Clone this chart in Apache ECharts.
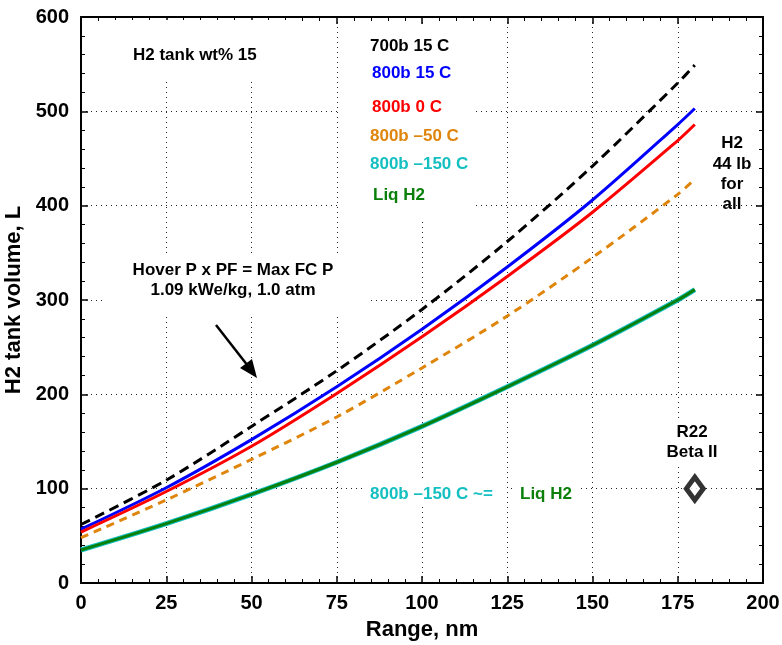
<!DOCTYPE html>
<html><head><meta charset="utf-8">
<script src="https://cdn.jsdelivr.net/npm/echarts@6/dist/echarts.min.js"></script>
<style>html,body{margin:0;padding:0;background:#fff}#c{width:782px;height:645px}</style>
</head><body><div id="c"></div><script>
// Range, nm
const ranges = [0, 25, 50, 75, 100, 125, 150, 175, 180];
// H2 tank volume, L
const v700b15C   = [62, 109, 166, 225, 290, 362, 442, 530, 549];
const v800b15C   = [57, 101, 152, 208, 269, 335, 406, 486, 503];
const v800b0C    = [54, 97, 145, 201, 261, 325, 393, 469, 486];
const v800bm50C  = [48, 88, 131, 176, 228, 283, 345, 412, 428];
const v800bm150C = [35, 63, 94, 128, 166, 208, 252, 300, 311];
const vLiqH2     = [35, 63, 94, 128, 166, 208, 252, 300, 311];
const r22Point = [[180, 100]];
const xTicks = {min: 0, max: 200, interval: 25};
const yTicks = {min: 0, max: 600, interval: 100};

const FONT = '"Liberation Sans", Arial, Helvetica, sans-serif';
const C = {black:'#000000', blue:'#0000FF', red:'#FF0000', orange:'#E0850B', cyan:'#14BFC2', green:'#0A800A'};
const pair = a => ranges.map((x, i) => [x, a[i]]);

const axisLine = {show: true, onZero: false, lineStyle: {color: '#000', width: 2}};
const tick = {show: true, inside: true, length: 7, lineStyle: {color: '#000', width: 1.5}};
const grid = {show: true, lineStyle: {type: [1, 4], color: '#222', width: 1}};
const lbl = {color: '#000', fontFamily: FONT, fontWeight: 'bold', fontSize: 20};
const nameStyle = {color: '#000', fontFamily: FONT, fontWeight: 'bold', fontSize: 22};
const minor = {show: true, splitNumber: 5, length: 4, lineStyle: {color: '#000'}};

function line(name, data, color, width, dash, z) {
  return {name, type: 'line', data: pair(data), smooth: 0.3, symbol: 'none', z: z || 2,
    lineStyle: {color, width, type: dash || 'solid', cap: 'butt'}};
}

const chart = echarts.init(document.getElementById('c'), null, {renderer: 'canvas'});
const txt = (text, x, y, color, align, size) => ({type: 'text', x, y, z: 20,
  style: {text, fill: color, font: 'bold ' + (size || 17) + 'px ' + FONT, textAlign: align || 'left', textVerticalAlign: 'middle'}});
const box = (x, y, w, h) => ({type: 'rect', shape: {x, y, width: w, height: h}, z: 1, style: {fill: '#fff'}});

chart.setOption({
  animation: false,
  backgroundColor: '#fff',
  grid: {left: 81, right: 19, top: 17, bottom: 62, outerBoundsMode: 'none', containLabel: false},
  xAxis: [
    Object.assign({type: 'value', position: 'bottom', axisLine, axisTick: tick, minorTick: minor,
      axisLabel: Object.assign({margin: 10}, lbl), splitLine: grid,
      name: 'Range, nm', nameLocation: 'middle', nameGap: 36, nameTextStyle: nameStyle}, xTicks),
    Object.assign({type: 'value', position: 'top', axisLine, axisTick: tick, minorTick: minor,
      axisLabel: {show: false}, splitLine: {show: false}}, xTicks)
  ],
  yAxis: [
    Object.assign({type: 'value', position: 'left', axisLine, axisTick: tick, minorTick: minor,
      axisLabel: Object.assign({margin: 12}, lbl), splitLine: grid,
      name: 'H2 tank volume, L', nameLocation: 'middle', nameGap: 51, nameRotate: 90, nameTextStyle: nameStyle}, yTicks),
    Object.assign({type: 'value', position: 'right', axisLine, axisTick: tick, minorTick: minor,
      axisLabel: {show: false}, splitLine: {show: false}}, yTicks)
  ],
  series: [
    line('700b 15 C', v700b15C, C.black, 3, [10, 6]),
    line('800b 15 C', v800b15C, C.blue, 3),
    line('800b 0 C', v800b0C, C.red, 3),
    line('800b –50 C', v800bm50C, C.orange, 3, [8, 6]),
    line('800b –150 C', v800bm150C, C.cyan, 5, null, 2),
    line('Liq H2', vLiqH2, C.green, 3, null, 3),
    {name: 'R22 Beta II', type: 'scatter', data: r22Point, symbol: 'diamond', symbolSize: [17, 23], z: 5,
      itemStyle: {color: '#fff', borderColor: '#000', borderWidth: 5}}
  ],
  graphic: [
    box(110, 20, 190, 62),
    box(338, 24, 138, 195),
    box(104, 253, 263, 62),
    box(660, 418, 63, 46),
    box(365, 481, 142, 26),
    box(515, 481, 64, 26),
    txt('H2 tank wt% 15', 133, 55, '#000'),
    txt('700b 15 C', 370, 46, C.black),
    txt('800b 15 C', 372, 73, C.blue),
    txt('800b 0 C', 372, 107, C.red),
    txt('800b –50 C', 370, 136, C.orange),
    txt('800b –150 C', 370, 164, C.cyan),
    txt('Liq H2', 373, 195, C.green),
    txt('H2', 732, 143, '#000', 'center'),
    txt('44 lb', 732, 164, '#000', 'center'),
    txt('for', 732, 184, '#000', 'center'),
    txt('all', 732, 204, '#000', 'center'),
    txt('Hover P x PF = Max FC P', 233, 270, '#000', 'center'),
    txt('1.09 kWe/kg, 1.0 atm', 233, 290, '#000', 'center'),
    txt('R22', 692, 432, '#000', 'center'),
    txt('Beta II', 692, 452, '#000', 'center'),
    txt('800b –150 C ~=', 370, 494, C.cyan),
    txt('Liq H2', 520, 494, C.green),
    {type: 'line', z: 20, shape: {x1: 216, y1: 325, x2: 248, y2: 366}, style: {stroke: '#000', lineWidth: 2.5}},
    {type: 'polygon', z: 20, shape: {points: [[257, 378], [240, 368], [252, 359]]}, style: {fill: '#000'}}
  ]
});
</script></body></html>
